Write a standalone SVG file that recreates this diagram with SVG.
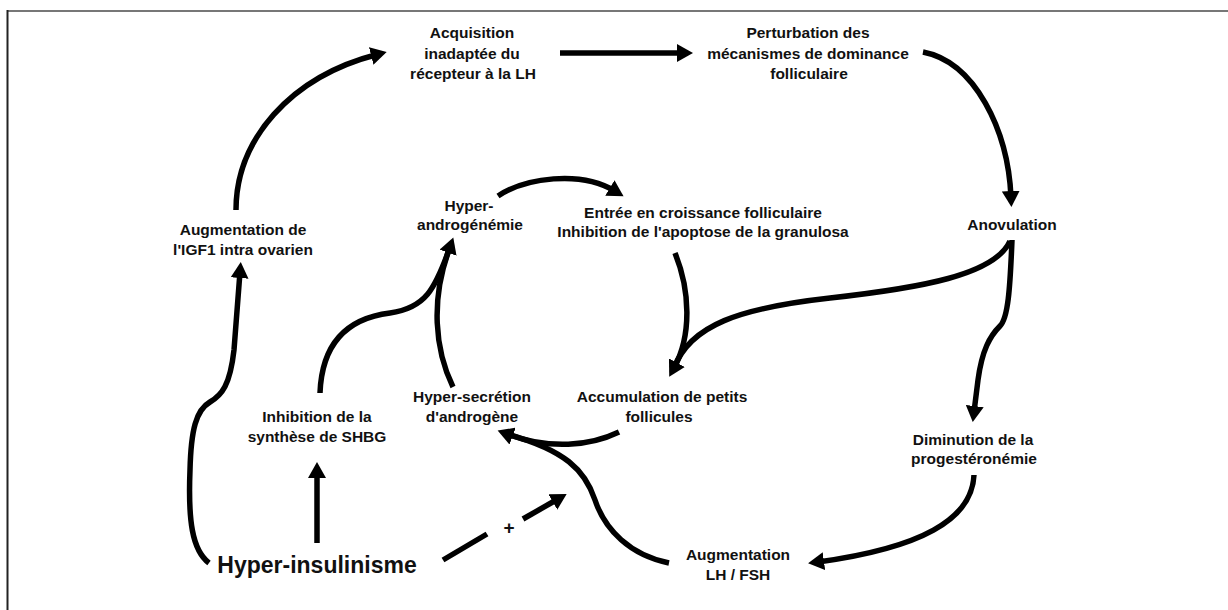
<svg xmlns="http://www.w3.org/2000/svg" width="1228" height="610" viewBox="0 0 1228 610">
<style>
text{font-family:"Liberation Sans",Arial,Helvetica,sans-serif;font-weight:bold;font-size:15.5px;fill:#111;text-anchor:middle}
.big{font-size:23px}
.plus{font-size:19px}
.c{fill:none;stroke:#000;stroke-width:5.5}
</style>
<defs>
<marker id="ah" markerUnits="userSpaceOnUse" markerWidth="18" markerHeight="18" refX="6" refY="9" orient="auto">
<path d="M0,0 L16,9 L0,18 z" fill="#000"/>
</marker>
</defs>
<rect width="1228" height="610" fill="#fff"/>
<line x1="7" y1="11" x2="1228" y2="11" stroke="#777" stroke-width="2"/>
<line x1="7.5" y1="10" x2="7.5" y2="610" stroke="#222" stroke-width="2"/>
<g id="connectors">
<path class="c" d="M236,210 C236,140 290,77 377,54.5" marker-end="url(#ah)"/>
<path class="c" d="M560,53 L683,53" marker-end="url(#ah)"/>
<path class="c" d="M923,52 C975,62 1008,130 1011,197" marker-end="url(#ah)"/>
<path class="c" d="M498,196 C525,178 580,170 615,191" stroke-width="6.5" marker-end="url(#ah)"/>
<path class="c" d="M675,253 C690,290 692,335 674,368" marker-end="url(#ah)"/>
<path class="c" d="M1010,241 C995,275 920,288 830,298 C740,308 690,325 674,368"/>
<path class="c" d="M1012,240 C1010,290 1008,318 1000,326 C990,336 982,350 978,380 L974,412" marker-end="url(#ah)"/>
<path class="c" d="M974,475 C972,520 920,548 818,562" marker-end="url(#ah)"/>
<path class="c" d="M669,563 C630,555 605,530 595,500 C585,470 565,450 507,434"/>
<path class="c" d="M619,432 C590,446 550,450 507,434" stroke-width="6.5" marker-end="url(#ah)"/>
<path class="c" d="M320,393 C322,340 350,318 390,313 C425,308 435,290 450,247" marker-end="url(#ah)"/>
<path class="c" d="M453,387 C435,350 430,300 450,247"/>
<path class="c" d="M317,543 L317,472" marker-end="url(#ah)"/>
<path class="c" d="M209,563 C192,550 188,520 190,470 C191,430 196,410 210,402 C222,395 230,385 234,350 L240,272" marker-end="url(#ah)"/>
<path class="c" d="M443,560 L487,534"/>
<path class="c" d="M523,519 L558,499" marker-end="url(#ah)"/>
</g>
<g id="n-acquisition"><text x="472" y="38">Acquisition</text><text x="472" y="59">inadaptée du</text><text x="473" y="79">récepteur à la LH</text></g>
<g id="n-perturbation"><text x="808" y="38">Perturbation des</text><text x="808" y="59">mécanismes de dominance</text><text x="809" y="79">folliculaire</text></g>
<g id="n-igf1"><text x="243" y="235">Augmentation de</text><text x="243" y="255">l'IGF1 intra ovarien</text></g>
<g id="n-hyperandrogenemie"><text x="469" y="211">Hyper-</text><text x="470" y="230">androgénémie</text></g>
<g id="n-entree"><text x="703" y="218">Entrée en croissance folliculaire</text><text x="703" y="237">Inhibition de l'apoptose de la granulosa</text></g>
<g id="n-anovulation"><text x="1012" y="230">Anovulation</text></g>
<g id="n-hypersecretion"><text x="472" y="402">Hyper-secrétion</text><text x="472" y="422">d'androgène</text></g>
<g id="n-accumulation"><text x="662" y="402">Accumulation de petits</text><text x="659" y="422">follicules</text></g>
<g id="n-shbg"><text x="317" y="422">Inhibition de la</text><text x="317" y="442">synthèse de SHBG</text></g>
<g id="n-diminution"><text x="973" y="445">Diminution de la</text><text x="974" y="464">progestéronémie</text></g>
<g id="n-augmentation-lh"><text x="738" y="560">Augmentation</text><text x="738" y="580">LH / FSH</text></g>
<g id="n-hyperinsulinisme"><text class="big" x="317" y="573">Hyper-insulinisme</text></g>
<g id="l-plus"><text class="plus" x="509" y="534">+</text></g>
</svg>
